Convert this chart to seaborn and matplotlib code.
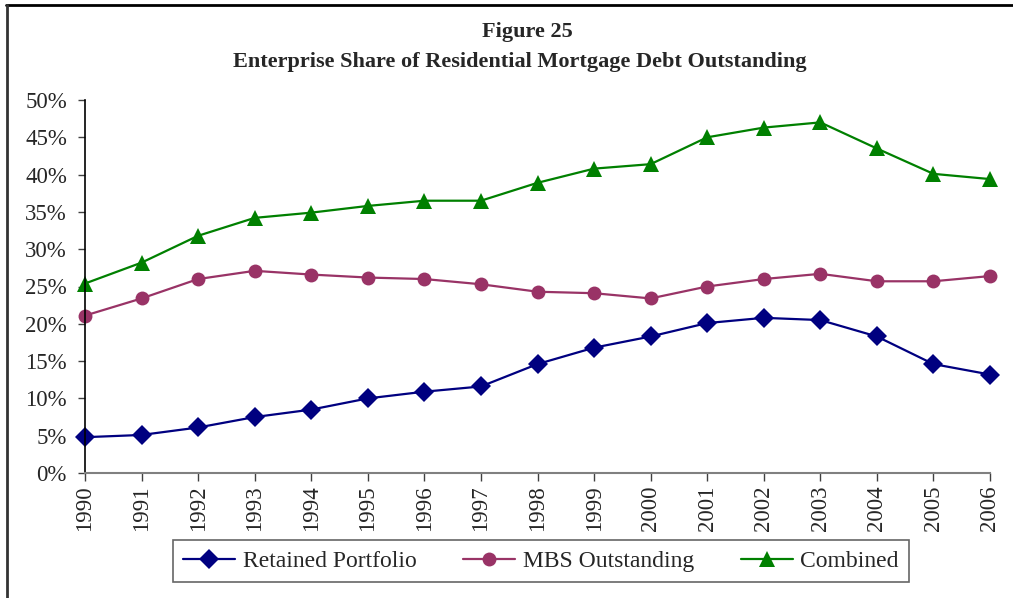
import matplotlib
matplotlib.use("Agg")
import matplotlib.pyplot as plt
import matplotlib.ticker as mticker
from matplotlib.lines import Line2D
import seaborn as sns
import pandas as pd

years = list(range(1990, 2007))
retained = [4.8, 5.1, 6.1, 7.5, 8.5, 10.0, 10.9, 11.6, 14.6, 16.8, 18.3, 20.1, 20.8, 20.5, 18.3, 14.6, 13.2]
mbs = [21.1, 23.4, 26.0, 27.1, 26.6, 26.2, 26.0, 25.3, 24.3, 24.1, 23.4, 25.0, 26.0, 26.7, 25.7, 25.7, 26.4]
combined = [25.4, 28.2, 31.8, 34.2, 34.9, 35.8, 36.5, 36.5, 38.9, 40.8, 41.4, 45.0, 46.3, 47.0, 43.5, 40.1, 39.4]
series_names = ["Retained Portfolio", "MBS Outstanding", "Combined"]
title_lines = ["Figure 25", "Enterprise Share of Residential Mortgage Debt Outstanding"]

df = pd.concat([
    pd.DataFrame({"Year": years, "Share": [v / 100 for v in vals], "Series": name})
    for name, vals in zip(series_names, [retained, mbs, combined])
])

sns.set_style("white")
plt.rcParams["font.family"] = ["Liberation Serif", "DejaVu Serif"]

colors = {"Retained Portfolio": "#000080", "MBS Outstanding": "#993366", "Combined": "#008000"}
markers = {"Retained Portfolio": "D", "MBS Outstanding": "o", "Combined": "^"}
msizes = {"Retained Portfolio": 10, "MBS Outstanding": 10, "Combined": 12}

fig = plt.figure(figsize=(10.13, 5.98), dpi=100)
ax = fig.add_axes([85 / 1013, 1 - 473 / 598, (990 - 85) / 1013, (473 - 100) / 598])

for name in series_names:
    sub = df[df["Series"] == name]
    sns.lineplot(data=sub, x="Year", y="Share", color=colors[name], marker=markers[name],
                 linewidth=1.6, markersize=msizes[name], markeredgewidth=0, ax=ax,
                 legend=False, clip_on=False)

ax.set_xlim(1990, 2006)
ax.set_ylim(0, 0.5)
ax.set_xticks(years)
ax.set_xticklabels([str(y) for y in years], rotation=90, fontsize=16.5)
ax.yaxis.set_major_locator(mticker.MultipleLocator(0.05))
ax.yaxis.set_major_formatter(mticker.PercentFormatter(1.0, decimals=0))
ax.tick_params(axis="y", labelsize=16.5, left=True, length=5, width=1, color="#404040", pad=8)
ax.tick_params(axis="x", bottom=True, length=6, width=1, color="#404040", pad=3)
ax.set_xlabel("")
ax.set_ylabel("")
for s in ["top", "right"]:
    ax.spines[s].set_visible(False)
ax.spines["left"].set_color("black")
ax.spines["left"].set_linewidth(1.2)
ax.spines["bottom"].set_color("#808080")
ax.spines["bottom"].set_linewidth(1.5)
ax.grid(False)

fig.text(527 / 1013, 1 - 32 / 598, title_lines[0], ha="center", va="center", fontsize=16, fontweight="bold")
fig.text(520 / 1013, 1 - 62 / 598, title_lines[1], ha="center", va="center", fontsize=16, fontweight="bold")

handles = [Line2D([], [], color=colors[n], marker=markers[n], markersize=msizes[n], markeredgewidth=0, linewidth=1.6)
           for n in series_names]
leg = fig.legend(handles, series_names, loc="center", bbox_to_anchor=(541 / 1013, 1 - 561 / 598),
                 ncol=3, fontsize=17, frameon=True, fancybox=False, edgecolor="#404040",
                 handlelength=2.2, columnspacing=2.0, handletextpad=0.3, borderpad=0.45)
leg.get_frame().set_linewidth(1.2)

fig.add_artist(Line2D([6 / 1013, 1.0], [1 - 4.5 / 598, 1 - 4.5 / 598], transform=fig.transFigure, color="black", linewidth=2))
fig.add_artist(Line2D([6.5 / 1013, 6.5 / 1013], [0, 1 - 4.5 / 598], transform=fig.transFigure, color="#333333", linewidth=2))

fig.savefig("out.png", dpi=100)
